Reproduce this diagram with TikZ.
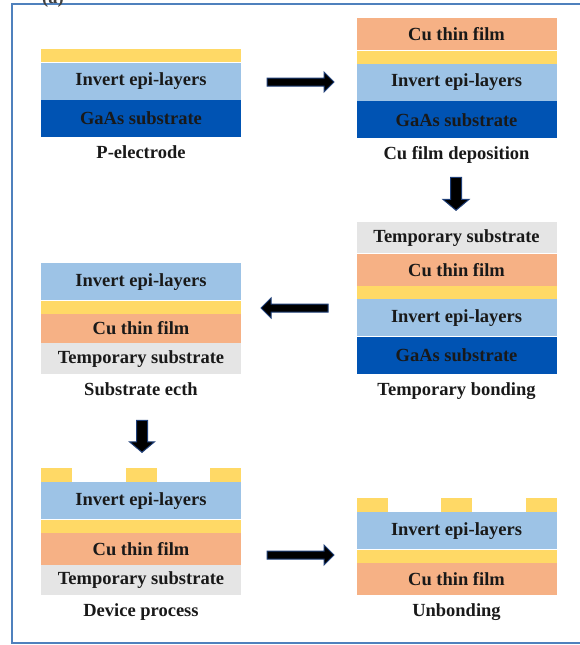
\documentclass[tikz,border=0pt]{standalone}
\usepackage{fontspec}
\setmainfont{Liberation Serif}
\usetikzlibrary{positioning, shapes.arrows}
\definecolor{padgold}{HTML}{FFD966}
\definecolor{epiblue}{HTML}{9DC3E6}
\definecolor{gaasblue}{HTML}{0053B3}
\definecolor{cuorange}{HTML}{F6B185}
\definecolor{tempgrey}{HTML}{E5E5E5}
\definecolor{framebl}{HTML}{4F81BD}
\definecolor{arrowbl}{HTML}{1F3F78}

\begin{document}
\begin{tikzpicture}[x=1pt,y=-1pt,font=\fontsize{18.5}{21}\selectfont\bfseries]
 \tikzstyle{layer}=[rectangle,minimum width=200pt,inner sep=0pt,
   text centered,text=black!90]
 \tikzstyle{gold}=[layer,fill=padgold,minimum height=13pt]
 \tikzstyle{epi}=[layer,fill=epiblue,minimum height=37pt]
 \tikzstyle{gaas}=[layer,fill=gaasblue,minimum height=37pt]
 \tikzstyle{cu}=[layer,fill=cuorange,minimum height=32pt]
 \tikzstyle{temp}=[layer,fill=tempgrey,minimum height=31pt]
 \tikzstyle{pad}=[rectangle,fill=padgold,minimum width=31pt,
   minimum height=14pt,inner sep=0pt]
 \tikzstyle{caption}=[inner sep=0pt,text height=12pt,text depth=4pt,
   text=black!90]
 \tikzstyle{blockarrow}=[single arrow,fill=black,draw=arrowbl,
   line width=1pt,minimum width=0pt]
 \tikzstyle{sidearrow}=[blockarrow,inner sep=3.5pt,single arrow head extend=6pt,
   minimum height=67pt,single arrow tip angle=90]
 \tikzstyle{downarrow}=[blockarrow,inner sep=5pt,single arrow head extend=7pt,
   minimum height=32pt,single arrow tip angle=100,shape border rotate=270]

 \useasboundingbox (0,0) rectangle (579,645);
 \draw[framebl,line width=2.5pt] (590,4) -- (12,4) -- (12,643) -- (590,643);
 \node (tag) [anchor=base,inner sep=0pt,text=black!75] at (53,3) {(a)};

 % P-electrode
 \node (gold1) [gold,anchor=north] at (141,49) {};
 \node (epi1) [epi,below=0pt of gold1] {Invert epi-layers};
 \node (gaas1) [gaas,below=0pt of epi1] {GaAs substrate};
 \node (cap1) [caption,below=9pt of gaas1] {P-electrode};

 % Cu film deposition
 \node (cu2) [cu,anchor=north] at (456.5,18) {Cu thin film};
 \node (gold2) [gold,below=0pt of cu2] {};
 \node (epi2) [epi,below=0pt of gold2] {Invert epi-layers};
 \node (gaas2) [gaas,below=0pt of epi2] {GaAs substrate};
 \node (cap2) [caption,below=9pt of gaas2] {Cu film deposition};

 % Temporary bonding
 \node (temp3) [temp,anchor=north] at (456.5,222) {Temporary substrate};
 \node (cu3) [cu,below=0pt of temp3] {Cu thin film};
 \node (gold3) [gold,below=0pt of cu3] {};
 \node (epi3) [epi,below=0pt of gold3] {Invert epi-layers};
 \node (gaas3) [gaas,below=0pt of epi3] {GaAs substrate};
 \node (cap3) [caption,below=9pt of gaas3] {Temporary bonding};

 % Substrate etch
 \node (epi4) [epi,anchor=north] at (141,263) {Invert epi-layers};
 \node (gold4) [gold,below=0pt of epi4] {};
 \node (cu4) [cu,minimum height=29pt,below=0pt of gold4] {Cu thin film};
 \node (temp4) [temp,below=0pt of cu4] {Temporary substrate};
 \node (cap4) [caption,below=9pt of temp4] {Substrate ecth};

 % Device process
 \node (epi5) [epi,anchor=north] at (141,482) {Invert epi-layers};
 \node (pad5a) [pad,anchor=south west] at (epi5.north west) {};
 \node (pad5b) [pad,anchor=south] at (epi5.north) {};
 \node (pad5c) [pad,anchor=south east] at (epi5.north east) {};
 \node (gold5) [gold,below=0pt of epi5] {};
 \node (cu5) [cu,below=0pt of gold5] {Cu thin film};
 \node (temp5) [temp,minimum height=30pt,below=0pt of cu5] {Temporary substrate};
 \node (cap5) [caption,below=9pt of temp5] {Device process};

 % Unbonding
 \node (epi6) [epi,anchor=north] at (456.5,512) {Invert epi-layers};
 \node (pad6a) [pad,anchor=south west] at (epi6.north west) {};
 \node (pad6b) [pad,anchor=south] at (epi6.north) {};
 \node (pad6c) [pad,anchor=south east] at (epi6.north east) {};
 \node (gold6) [gold,below=0pt of epi6] {};
 \node (cu6) [cu,below=0pt of gold6] {Cu thin film};
 \node (cap6) [caption,below=9pt of cu6] {Unbonding};

 % process arrows
 \node (arr1) [sidearrow] at (298.5,82) {};
 \node (arr2) [downarrow,single arrow head extend=7.5pt,minimum height=33pt] at (456,191.5) {};
 \node (arr3) [sidearrow,shape border rotate=180] at (296.5,308) {};
 \node (arr4) [downarrow] at (142,434) {};
 \node (arr5) [sidearrow] at (298.5,555) {};
\end{tikzpicture}
\end{document}
